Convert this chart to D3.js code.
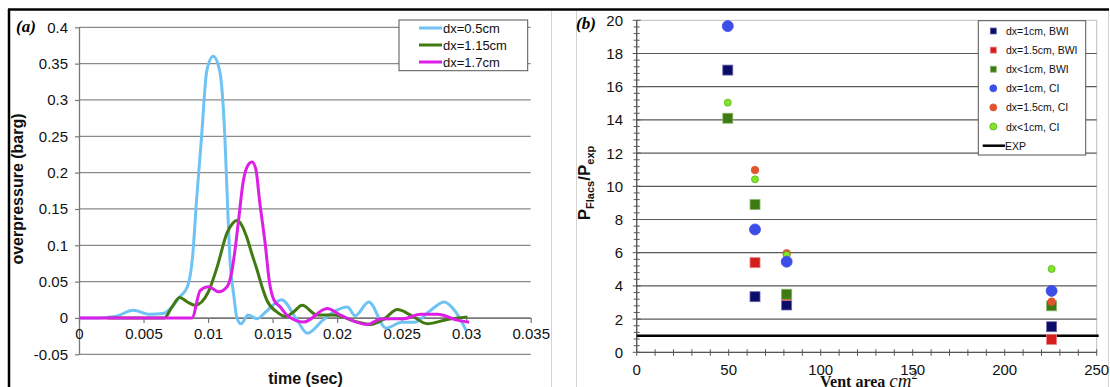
<!DOCTYPE html>
<html>
<head>
<meta charset="utf-8">
<script src="https://cdn.jsdelivr.net/npm/d3@7"></script>
<style>
  html, body { margin: 0; padding: 0; background: #fff; }
  svg { display: block; font-family: 'Liberation Sans', Arial, sans-serif; }
</style>
</head>
<body>
<svg id="chart" width="1110" height="387"></svg>
<script>
// ---- panel (a): overpressure traces ----
const timeTicks = [0, 0.005, 0.01, 0.015, 0.02, 0.025, 0.03, 0.035]
const pressureTicks = [-0.05, 0, 0.05, 0.1, 0.15, 0.2, 0.25, 0.3, 0.35, 0.4]

const fineTime = [0, 0.0015, 0.0028, 0.0042, 0.0055, 0.0065, 0.0072, 0.0078, 0.0084, 0.0088, 0.0091, 0.0095, 0.0099, 0.0104, 0.0109, 0.0113, 0.0115, 0.0117, 0.012, 0.01224, 0.01255, 0.0131, 0.0138, 0.01457, 0.0157, 0.0168, 0.0177, 0.0189, 0.0199, 0.0208, 0.0214, 0.02245, 0.0238, 0.025, 0.026, 0.0272, 0.0283, 0.0292, 0.03]
const fineP = [0, 0, 0.002, 0.0106, 0.005, 0.006, 0.015, 0.029, 0.043, 0.084, 0.16, 0.25, 0.34, 0.36, 0.34, 0.25, 0.16, 0.08, 0.03, 0, -0.008, 0.004, -0.001, 0.01, 0.025, 0.0, -0.021, -0.003, 0.01, 0.015, 0.003, 0.022, -0.014, -0.006, -0.006, 0.01, 0.022, 0.008, -0.017]

const midTime = [0.0022, 0.0066, 0.0072, 0.0078, 0.0084, 0.009, 0.0095, 0.01, 0.0107, 0.01147, 0.0119, 0.01224, 0.0126, 0.013, 0.0134, 0.0138, 0.0142, 0.01457, 0.01535, 0.016, 0.0166, 0.01729, 0.01845, 0.01975, 0.02156, 0.0226, 0.0236, 0.02467, 0.0257, 0.027, 0.02855, 0.0301]
const midP = [0, 0, 0.015, 0.028, 0.022, 0.0175, 0.022, 0.035, 0.07, 0.117, 0.13, 0.134, 0.128, 0.111, 0.088, 0.066, 0.042, 0.024, 0.008, 0.002, 0.008, 0.0175, 0.004, 0.004, -0.0055, -0.009, -0.002, 0.0115, 0.004, -0.008, -0.002, 0.0015]

const coarseTime = [0, 0.00875, 0.0094, 0.01004, 0.01082, 0.01147, 0.0118, 0.0121, 0.0124, 0.0127, 0.013, 0.0134, 0.0137, 0.014, 0.01444, 0.01475, 0.0151, 0.0156, 0.0161, 0.01742, 0.01923, 0.02026, 0.02234, 0.02337, 0.02518, 0.02648, 0.02777, 0.02932, 0.03023]
const coarseP = [0, 0, 0.038, 0.043, 0.036, 0.043, 0.06, 0.095, 0.14, 0.185, 0.207, 0.2146, 0.205, 0.16, 0.1, 0.05, 0.025, 0.015, 0.004, -0.0055, 0.013, 0.004, -0.009, -0.0015, -0.001, 0.005, 0.005, -0.003, -0.006]

const traces = [
  { name: 'dx=0.5cm', color: '#6ec3f4', t: fineTime, p: fineP },
  { name: 'dx=1.15cm', color: '#417a12', t: midTime, p: midP },
  { name: 'dx=1.7cm', color: '#dd1ee6', t: coarseTime, p: coarseP },
]

// ---- panel (b): pressure ratio vs vent area ----
const areaTicks = [0, 50, 100, 150, 200, 250]
const ratioTicks = [0, 2, 4, 6, 8, 10, 12, 14, 16, 18, 20]
const ventArea = [49.5, 64.3, 81.5, 225.5]
const bwi1 = [17.0, 3.35, 2.85, 1.54]
const bwi15 = [null, 5.4, 3.42, 0.78]
const bwiFine = [14.1, 8.9, 3.5, 2.8]
const ci1 = [19.65, 7.4, 5.46, 3.7]
const ci15 = [null, 10.98, 5.96, 3.05]
const ciFine = [15.04, 10.42, 5.86, 5.02]
const expRatio = 1

const markerSeries = [
  { name: 'dx=1cm, BWI', shape: 'square', color: '#0b0b6c', stroke: '#6a6aa8', size: 10, v: bwi1 },
  { name: 'dx=1.5cm, BWI', shape: 'square', color: '#d61d1d', stroke: '#e88080', size: 10, v: bwi15 },
  { name: 'dx<1cm, BWI', shape: 'square', color: '#3e7a13', stroke: '#8db870', size: 10, v: bwiFine },
  { name: 'dx=1.5cm, CI', shape: 'circle', color: '#e0552d', stroke: '#e0552d', size: 3.8, v: ci15 },
  { name: 'dx<1cm, CI', shape: 'circle', color: '#80e626', stroke: '#55b01c', size: 3.5, v: ciFine },
  { name: 'dx=1cm, CI', shape: 'circle', color: '#3d4ee8', stroke: '#3d4ee8', size: 5.5, v: ci1 },
]
const legendOrder = ['dx=1cm, BWI', 'dx=1.5cm, BWI', 'dx<1cm, BWI', 'dx=1cm, CI', 'dx=1.5cm, CI', 'dx<1cm, CI']

const svg = d3.select('#chart')

// outer frame
svg.append('line').attr('x1', 8).attr('x2', 1109).attr('y1', 9.5).attr('y2', 9.5).attr('stroke', '#000').attr('stroke-width', 2.5)
svg.append('line').attr('x1', 9).attr('x2', 9).attr('y1', 9).attr('y2', 387).attr('stroke', '#000').attr('stroke-width', 2.5)
;[551.5, 576.5, 1108.5].forEach((x) => {
  svg.append('line').attr('x1', x).attr('x2', x).attr('y1', 11).attr('y2', 387).attr('stroke', '#d4d4d4').attr('stroke-width', 1)
})

// ===== panel (a) =====
const xA = d3.scaleLinear().domain([0, 0.035]).range([79, 530.7])
const yA = d3.scaleLinear().domain([-0.05, 0.4]).range([354.3, 27.3])
const gA = svg.append('g')

gA.append('g').selectAll('line').data(pressureTicks).join('line')
  .attr('x1', xA(0)).attr('x2', xA(0.035))
  .attr('y1', (d) => yA(d)).attr('y2', (d) => yA(d))
  .attr('stroke', '#8a8a8a').attr('stroke-width', 1.3)

const fmtA = (d) => String(+d.toFixed(3))
const yAxisA = gA.append('g').attr('transform', `translate(${xA(0)},0)`)
  .call(d3.axisLeft(yA).tickValues(pressureTicks).tickSize(4).tickSizeOuter(0).tickPadding(7).tickFormat(fmtA))
const xAxisA = gA.append('g').attr('transform', `translate(0,${yA(0)})`)
  .call(d3.axisBottom(xA).tickValues(timeTicks).tickSize(5).tickSizeOuter(0).tickPadding(5.5).tickFormat(fmtA))
;[yAxisA, xAxisA].forEach((ax) => {
  ax.select('.domain').attr('stroke', '#777').attr('stroke-width', 1.3)
  ax.selectAll('.tick line').attr('stroke', '#777').attr('stroke-width', 1.2)
  ax.selectAll('.tick text').attr('fill', '#111').attr('font-size', 15).attr('font-family', "'Liberation Sans', Arial, sans-serif")
})

const lineA = d3.line().x((d) => xA(d[0])).y((d) => yA(d[1])).curve(d3.curveMonotoneX)
traces.forEach((s) => {
  gA.append('path')
    .datum(s.t.map((t, i) => [t, s.p[i]]))
    .attr('fill', 'none').attr('stroke', s.color).attr('stroke-width', 3)
    .attr('stroke-linejoin', 'round').attr('d', lineA)
})

gA.append('text').attr('transform', 'translate(23,189) rotate(-90)').attr('text-anchor', 'middle')
  .attr('font-size', 16).attr('font-weight', 'bold').attr('fill', '#111').text('overpressure (barg)')
gA.append('text').attr('x', 305.5).attr('y', 384).attr('text-anchor', 'middle')
  .attr('font-size', 16).attr('font-weight', 'bold').attr('fill', '#111').text('time (sec)')
gA.append('text').attr('x', 16).attr('y', 32).attr('font-family', "'Liberation Serif', 'Times New Roman', serif")
  .attr('font-size', 17).attr('font-weight', 'bold').attr('font-style', 'italic').text('(a)')

const legA = gA.append('g')
legA.append('rect').attr('x', 399).attr('y', 20).attr('width', 128.7).attr('height', 50.7)
  .attr('fill', '#fff').attr('stroke', '#555').attr('stroke-width', 1)
traces.forEach((s, i) => {
  const y = 28 + i * 17
  legA.append('line').attr('x1', 419).attr('x2', 442).attr('y1', y).attr('y2', y).attr('stroke', s.color).attr('stroke-width', 3)
  legA.append('text').attr('x', 443).attr('y', y + 4.5).attr('font-size', 13).attr('fill', '#111').text(s.name)
})

// ===== panel (b) =====
const xB = d3.scaleLinear().domain([0, 250]).range([636.7, 1096.7])
const yB = d3.scaleLinear().domain([0, 20]).range([352.3, 20.3])
const gB = svg.append('g')

gB.append('rect').attr('x', xB(0)).attr('y', yB(20)).attr('width', xB(250) - xB(0)).attr('height', yB(0) - yB(20))
  .attr('fill', 'none').attr('stroke', '#bdbdbd').attr('stroke-width', 1)
gB.append('g').selectAll('line').data(ratioTicks.filter((d) => d > 0 && d < 20)).join('line')
  .attr('x1', xB(0)).attr('x2', xB(250))
  .attr('y1', (d) => yB(d)).attr('y2', (d) => yB(d))
  .attr('stroke', '#5a5a5a').attr('stroke-width', 1.2)

// axes with crossing ticks
gB.append('line').attr('x1', xB(0)).attr('x2', xB(0)).attr('y1', yB(20)).attr('y2', yB(0)).attr('stroke', '#555').attr('stroke-width', 1.3)
gB.append('line').attr('x1', xB(0)).attr('x2', xB(250)).attr('y1', yB(0)).attr('y2', yB(0)).attr('stroke', '#555').attr('stroke-width', 1.3)
gB.append('g').selectAll('line').data(d3.range(0, 20.001, 0.4)).join('line')
  .attr('x1', (d) => xB(0) - (Math.abs(d % 2) < 1e-6 || Math.abs(d % 2 - 2) < 1e-6 ? 4 : 3))
  .attr('x2', (d) => xB(0) + (Math.abs(d % 2) < 1e-6 || Math.abs(d % 2 - 2) < 1e-6 ? 4 : 3))
  .attr('y1', (d) => yB(d)).attr('y2', (d) => yB(d))
  .attr('stroke', '#555').attr('stroke-width', 1)
gB.append('g').selectAll('line').data(d3.range(0, 251, 10)).join('line')
  .attr('x1', (d) => xB(d)).attr('x2', (d) => xB(d))
  .attr('y1', yB(0) - 3).attr('y2', yB(0) + 3.5)
  .attr('stroke', '#555').attr('stroke-width', 1)

gB.append('g').selectAll('text').data(ratioTicks).join('text')
  .attr('x', 623).attr('y', (d) => yB(d) + 5.5).attr('text-anchor', 'end')
  .attr('font-size', 15).attr('fill', '#111').text((d) => d)
gB.append('g').selectAll('text').data(areaTicks).join('text')
  .attr('x', (d) => xB(d)).attr('y', 375).attr('text-anchor', 'middle')
  .attr('font-size', 15).attr('fill', '#111').text((d) => d)

// experiment reference line
gB.append('line').attr('x1', xB(0)).attr('x2', xB(250) + 2).attr('y1', yB(expRatio)).attr('y2', yB(expRatio))
  .attr('stroke', '#000').attr('stroke-width', 2.5)

function drawMarker(sel, s, cx, cy, scale) {
  if (s.shape === 'square') {
    const w = s.size * scale
    sel.append('rect').attr('x', cx - w / 2).attr('y', cy - w / 2).attr('width', w).attr('height', w)
      .attr('fill', s.color).attr('stroke', s.stroke).attr('stroke-width', 0.8)
  } else {
    sel.append('circle').attr('cx', cx).attr('cy', cy).attr('r', s.size * scale)
      .attr('fill', s.color).attr('stroke', s.stroke).attr('stroke-width', 0.8)
  }
}

markerSeries.forEach((s) => {
  const g = gB.append('g')
  s.v.forEach((v, i) => {
    if (v == null) return
    drawMarker(g, s, xB(ventArea[i]), yB(v), 1)
  })
})

gB.append('text').attr('x', 576).attr('y', 28.5).attr('font-family', "'Liberation Serif', 'Times New Roman', serif")
  .attr('font-size', 17).attr('font-weight', 'bold').attr('font-style', 'italic').text('(b)')

const yLab = gB.append('text').attr('transform', 'translate(590,183) rotate(-90)').attr('text-anchor', 'middle')
  .attr('font-weight', 'bold').attr('fill', '#111')
yLab.append('tspan').attr('font-size', 17).text('P')
yLab.append('tspan').attr('font-size', 11).attr('dy', 4).text('Flacs')
yLab.append('tspan').attr('font-size', 17).attr('dy', -4).text('/P')
yLab.append('tspan').attr('font-size', 11).attr('dy', 4).text('exp')

const xLab = gB.append('text').attr('x', 820).attr('y', 387).attr('font-family', "'Liberation Serif', 'Times New Roman', serif").attr('fill', '#111')
xLab.append('tspan').attr('font-size', 16).attr('font-weight', 'bold').text('Vent area ')
xLab.append('tspan').attr('font-size', 19).attr('font-style', 'italic').text('cm')
xLab.append('tspan').attr('font-size', 12).attr('dy', -8).text('2')

const legB = gB.append('g')
legB.append('rect').attr('x', 978.3).attr('y', 20.7).attr('width', 107.4).attr('height', 134.3)
  .attr('fill', '#fff').attr('stroke', '#555').attr('stroke-width', 1)
legendOrder.forEach((name, i) => {
  const s = markerSeries.find((m) => m.name === name)
  const y = 31 + i * 19.1
  drawMarker(legB, { ...s, size: s.shape === 'square' ? 6 : 3.5 }, 993.3, y, 1)
  legB.append('text').attr('x', 1006).attr('y', y + 4).attr('font-size', 10.5).attr('fill', '#111').text(name)
})
legB.append('line').attr('x1', 982.7).attr('x2', 1005).attr('y1', 145.7).attr('y2', 145.7).attr('stroke', '#000').attr('stroke-width', 2.5)
legB.append('text').attr('x', 1005).attr('y', 149.7).attr('font-size', 10.5).attr('fill', '#111').text('EXP')
</script>
</body>
</html>
